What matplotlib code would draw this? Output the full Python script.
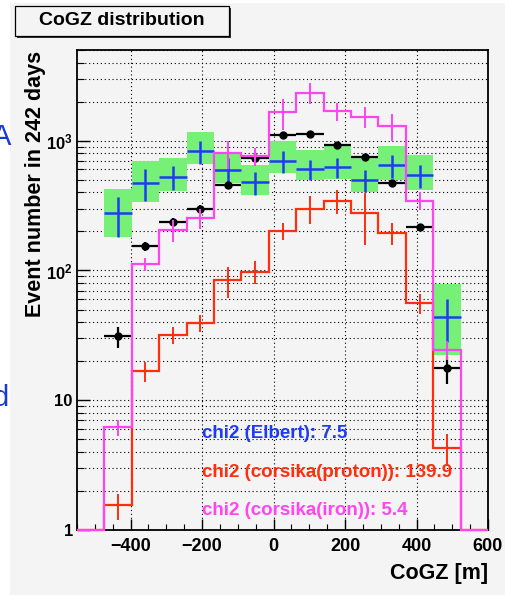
import numpy as np
import matplotlib.pyplot as plt
from matplotlib.patches import Rectangle
from matplotlib.ticker import LogLocator, MultipleLocator, FixedLocator, FixedFormatter, NullFormatter

plt.rcParams['font.family'] = ['Liberation Sans', 'DejaVu Sans']
plt.rcParams['font.weight'] = 'bold'
plt.rcParams['mathtext.fontset'] = 'custom'
plt.rcParams['mathtext.rm'] = 'Liberation Sans:bold'
plt.rcParams['mathtext.bf'] = 'Liberation Sans:bold'
plt.rcParams['mathtext.default'] = 'bf'

# histogram binning: 15 bins over the CoGZ range
bin_edges = np.linspace(-550, 600, 16)

# observed events
data = [0, 31, 154, 237, 300, 458, 733, 1100, 1120, 920, 750, 470, 215, 17.6, 0]

# Elbert prediction, stat error and systematic band
elbert = [0, 275, 475, 525, 828, 590, 480, 698, 606, 626, 500, 645, 540, 44, 0]
elbert_err = [0, 95, 130, 110, 165, 145, 97, 130, 106, 108, 98, 128, 110, 16, 0]
band_lo = [0, 180, 339, 410, 658, 470, 380, 567, 500, 506, 405, 500, 419, 22.3, 0]
band_hi = [0, 428, 698, 733, 1160, 785, 650, 1000, 851, 930, 758, 912, 780, 78.6, 0]

# CORSIKA simulations
proton = [0, 1.55, 16.8, 31.9, 39.7, 84, 98, 202, 300, 345, 277, 195, 56, 4.3, 0]
proton_err = [0, 0.35, 3, 5, 6, 23, 20, 30, 72, 75, 120, 37, 10, 1.2, 0]
iron = [0, 6.2, 112, 206, 253, 800, 758, 1650, 2350, 1680, 1535, 1300, 346, 24.5, 0]
iron_err = [0, 0.9, 13, 40, 44, 200, 120, 450, 430, 260, 280, 300, 56, 4, 0]

chi2_labels = ['chi2 (Elbert): 7.5', 'chi2 (corsika(proton)): 139.9', 'chi2 (corsika(iron)): 5.4']

BG = '#f4f4f4'
C_BLUE = '#1e3cf5'
C_RED = '#ff2e0e'
C_MAG = '#ff44f2'
C_GREEN = '#76f076'

ymin, ymax = 1, 5000
centers = 0.5 * (bin_edges[:-1] + bin_edges[1:])
width = np.diff(bin_edges)

fig = plt.figure(figsize=(5.06, 6.08), dpi=100, facecolor='white')
fig.patches.append(Rectangle((10 / 506, 13 / 608), 1, 592 / 608, transform=fig.transFigure,
                             facecolor=BG, edgecolor='none', zorder=-5))

# cut-off slide text at the left edge
fig.text(-0.016, 0.775, 'A', color='#1a3ad8', fontsize=21, weight='normal', ha='left', va='center')
fig.text(-0.014, 0.345, 'd', color='#1a3ad8', fontsize=21, weight='normal', ha='left', va='center')

ax = fig.add_axes([77 / 506, 78 / 608, 411 / 506, 480 / 608])
ax.set_facecolor(BG)
ax.set_yscale('log')
ax.set_xlim(bin_edges[0], bin_edges[-1])
ax.set_ylim(ymin, ymax)

def mask(vals):
    v = np.asarray(vals, float)
    return v > 0

# systematic band of the Elbert prediction
m = mask(elbert)
lo = np.asarray(band_lo)[m]
hi = np.asarray(band_hi)[m]
ax.bar(centers[m], hi - lo, bottom=lo, width=width[m], color=C_GREEN, edgecolor='none', zorder=2)
ax.errorbar(centers[m], np.asarray(elbert)[m], xerr=width[m] / 2, yerr=np.asarray(elbert_err)[m],
            fmt='none', ecolor=C_BLUE, elinewidth=1.8, zorder=3)

# measured data
m = mask(data)
d = np.asarray(data)[m]
ax.errorbar(centers[m], d, xerr=width[m] / 2, yerr=np.sqrt(d), fmt='o', color='black',
            ms=5, elinewidth=1.6, zorder=4)

# simulated histograms, empty bins drawn on the floor
for vals, errs, col, z in [(proton, proton_err, C_RED, 5), (iron, iron_err, C_MAG, 6)]:
    v = np.asarray(vals, float)
    ax.stairs(np.where(v > 0, v, ymin), bin_edges, baseline=None, color=col, lw=1.6,
              zorder=z, clip_on=False)
    m = v > 0
    ax.errorbar(centers[m], v[m], yerr=np.asarray(errs)[m], fmt='none', ecolor=col,
                elinewidth=1.4, zorder=z)

# ticks and grid
ax.xaxis.set_major_locator(MultipleLocator(200))
ax.xaxis.set_minor_locator(MultipleLocator(50))
ax.yaxis.set_major_locator(FixedLocator([1, 10, 100, 1000]))
ax.yaxis.set_major_formatter(FixedFormatter(['1', '10', r'$10^{2}$', r'$10^{3}$']))
ax.yaxis.set_minor_locator(LogLocator(base=10, subs=np.arange(2, 10)))
ax.yaxis.set_minor_formatter(NullFormatter())
ax.tick_params(axis='both', which='both', direction='in', color='black')
ax.tick_params(axis='y', which='major', length=9, width=1, labelsize=12, pad=3)
ax.tick_params(axis='y', which='minor', length=5, width=0.8)
ax.tick_params(axis='x', which='major', length=8, width=1, labelsize=13, pad=6)
ax.tick_params(axis='x', which='minor', length=4, width=0.8)
for t in ax.get_xticklabels() + ax.get_yticklabels():
    t.set_fontweight('bold')

ax.grid(True, axis='x', which='major', color='black', linestyle=(0, (1, 2.5)), lw=0.8)
ax.grid(True, axis='y', which='both', color='black', linestyle=(0, (1, 2.5)), lw=0.8)
ax.set_axisbelow(True)
for s in ax.spines.values():
    s.set_linewidth(1.3)

ax.set_ylabel('Event number in 242 days', fontsize=15.5, fontweight='bold', va='center')
ax.yaxis.set_label_coords(-0.101, 0.721)
ax.set_xlabel('CoGZ [m]', fontsize=15.5, fontweight='bold', ha='right', va='center')
ax.xaxis.set_label_coords(1.0, -0.0896)

for label, col, yy in zip(chi2_labels, [C_BLUE, C_RED, C_MAG], [0.202, 0.119, 0.040]):
    ax.text(0.304, yy, label, color=col, fontsize=13.5, fontweight='bold',
            ha='left', va='center', transform=ax.transAxes, zorder=8)

# title box with drop shadow
bx0, bx1 = 14.7 / 506, 229 / 506
by0, by1 = (608 - 35.7) / 608, (608 - 5.7) / 608
fig.patches.append(Rectangle((bx0 + 2.5 / 506, by0 - 2.5 / 608), bx1 - bx0, by1 - by0,
                             transform=fig.transFigure, facecolor='#333333', edgecolor='none'))
fig.patches.append(Rectangle((bx0, by0), bx1 - bx0, by1 - by0, transform=fig.transFigure,
                             facecolor=BG, edgecolor='black', lw=0.9))
fig.text((bx0 + bx1) / 2, (by0 + by1) / 2, 'CoGZ distribution', fontsize=14,
         fontweight='bold', ha='center', va='center')

fig.savefig('out.png', dpi=100, facecolor='white')
